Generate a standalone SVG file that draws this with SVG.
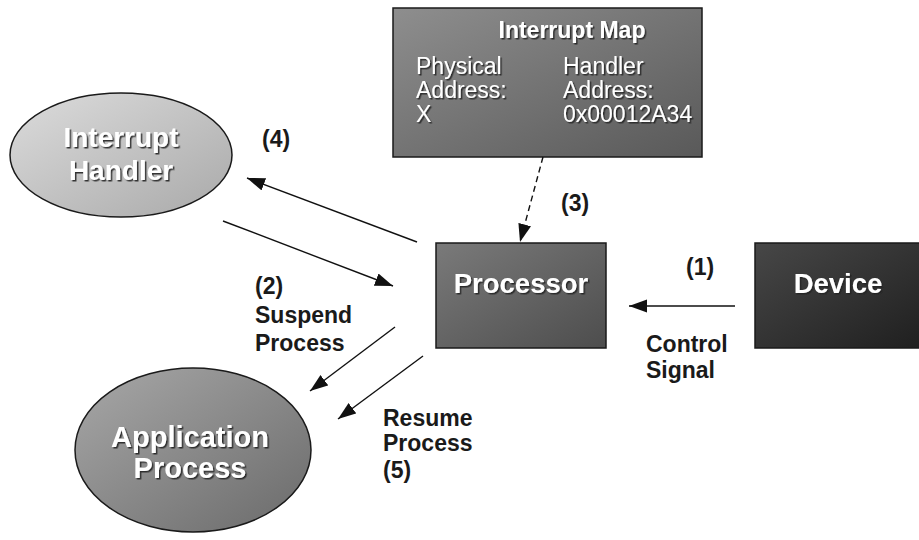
<svg xmlns="http://www.w3.org/2000/svg" width="919" height="540" viewBox="0 0 919 540">
<defs>
  <linearGradient id="gIH" x1="0" y1="0" x2="1" y2="1">
    <stop offset="0" stop-color="#dcdcdc"/>
    <stop offset="1" stop-color="#a9a9a9"/>
  </linearGradient>
  <linearGradient id="gAP" x1="0" y1="0" x2="1" y2="1">
    <stop offset="0" stop-color="#a8a8a8"/>
    <stop offset="1" stop-color="#6a6a6a"/>
  </linearGradient>
  <linearGradient id="gMap" x1="0" y1="0" x2="1" y2="1">
    <stop offset="0" stop-color="#8e8e8e"/>
    <stop offset="1" stop-color="#595959"/>
  </linearGradient>
  <linearGradient id="gProc" x1="0" y1="0" x2="1" y2="1">
    <stop offset="0" stop-color="#7a7a7a"/>
    <stop offset="1" stop-color="#4d4d4d"/>
  </linearGradient>
  <linearGradient id="gDev" x1="0" y1="0" x2="1" y2="1">
    <stop offset="0" stop-color="#474747"/>
    <stop offset="1" stop-color="#1f1f1f"/>
  </linearGradient>
  <filter id="shadow" x="-10%" y="-20%" width="130%" height="160%">
    <feDropShadow dx="1.5" dy="1.5" stdDeviation="0.6" flood-color="#222" flood-opacity="0.9"/>
  </filter>
  <marker id="arrow" markerUnits="userSpaceOnUse" markerWidth="19" markerHeight="14" refX="18" refY="6.5" orient="auto">
    <path d="M0,0 L18,6.5 L0,13 z" fill="#111"/>
  </marker>
</defs>
<style>
  .shape { stroke: #1a1a1a; stroke-width: 1.5; }
  .ntext { font-family: "Liberation Sans", Arial, sans-serif; font-weight: bold; fill: #ffffff; filter: url(#shadow); }
  .mtext { font-family: "Liberation Sans", Arial, sans-serif; font-size: 23px; fill: #ffffff; filter: url(#shadow); }
  .label { font-family: "Liberation Sans", Arial, sans-serif; font-weight: bold; font-size: 23px; fill: #1a1a1a; }
  .conn { stroke: #111; stroke-width: 1.4; fill: none; marker-end: url(#arrow); }
</style>

<g id="interrupt-handler">
  <ellipse class="shape" cx="121" cy="155" rx="111" ry="62" fill="url(#gIH)"/>
  <text class="ntext" font-size="28" x="121" y="147" text-anchor="middle">Interrupt</text>
  <text class="ntext" font-size="28" x="121" y="180" text-anchor="middle">Handler</text>
</g>

<g id="interrupt-map">
  <rect class="shape" x="393" y="8" width="309" height="149" fill="url(#gMap)"/>
  <text class="ntext" font-size="23" x="572" y="38" text-anchor="middle">Interrupt Map</text>
  <text class="mtext" x="416" y="74">Physical</text>
  <text class="mtext" x="416" y="98">Address:</text>
  <text class="mtext" x="416" y="122">X</text>
  <text class="mtext" x="563" y="74">Handler</text>
  <text class="mtext" x="563" y="98">Address:</text>
  <text class="mtext" x="563" y="122">0x00012A34</text>
</g>

<g id="processor">
  <rect class="shape" x="436" y="243" width="170" height="105" fill="url(#gProc)"/>
  <text class="ntext" font-size="27.5" x="521" y="293" text-anchor="middle">Processor</text>
</g>

<g id="device">
  <rect class="shape" x="755" y="243" width="170" height="105" fill="url(#gDev)"/>
  <text class="ntext" font-size="27.5" x="838" y="293" text-anchor="middle">Device</text>
</g>

<g id="application-process">
  <ellipse class="shape" cx="193" cy="450" rx="118" ry="82" fill="url(#gAP)"/>
  <text class="ntext" font-size="29" x="190" y="447" text-anchor="middle">Application</text>
  <text class="ntext" font-size="29" x="190" y="478" text-anchor="middle">Process</text>
</g>

<g id="connectors">
  <line class="conn" x1="417" y1="242" x2="247" y2="178"/>
  <line class="conn" x1="223" y1="221" x2="393" y2="286"/>
  <line class="conn" x1="395" y1="327" x2="310" y2="391"/>
  <line class="conn" x1="423" y1="356" x2="338" y2="419"/>
  <line class="conn" x1="735" y1="306" x2="629" y2="306"/>
  <line class="conn" x1="543" y1="157" x2="520" y2="242" stroke-dasharray="6,4"/>
</g>

<g id="labels">
  <text class="label" x="262" y="147">(4)</text>
  <text class="label" x="561" y="211">(3)</text>
  <text class="label" x="686" y="275">(1)</text>
  <text class="label" x="255" y="294">(2)</text>
  <text class="label" x="255" y="323">Suspend</text>
  <text class="label" x="255" y="351">Process</text>
  <text class="label" x="646" y="352">Control</text>
  <text class="label" x="646" y="378">Signal</text>
  <text class="label" x="383" y="426">Resume</text>
  <text class="label" x="383" y="451">Process</text>
  <text class="label" x="383" y="478" font-size="22">(5)</text>
</g>
</svg>
